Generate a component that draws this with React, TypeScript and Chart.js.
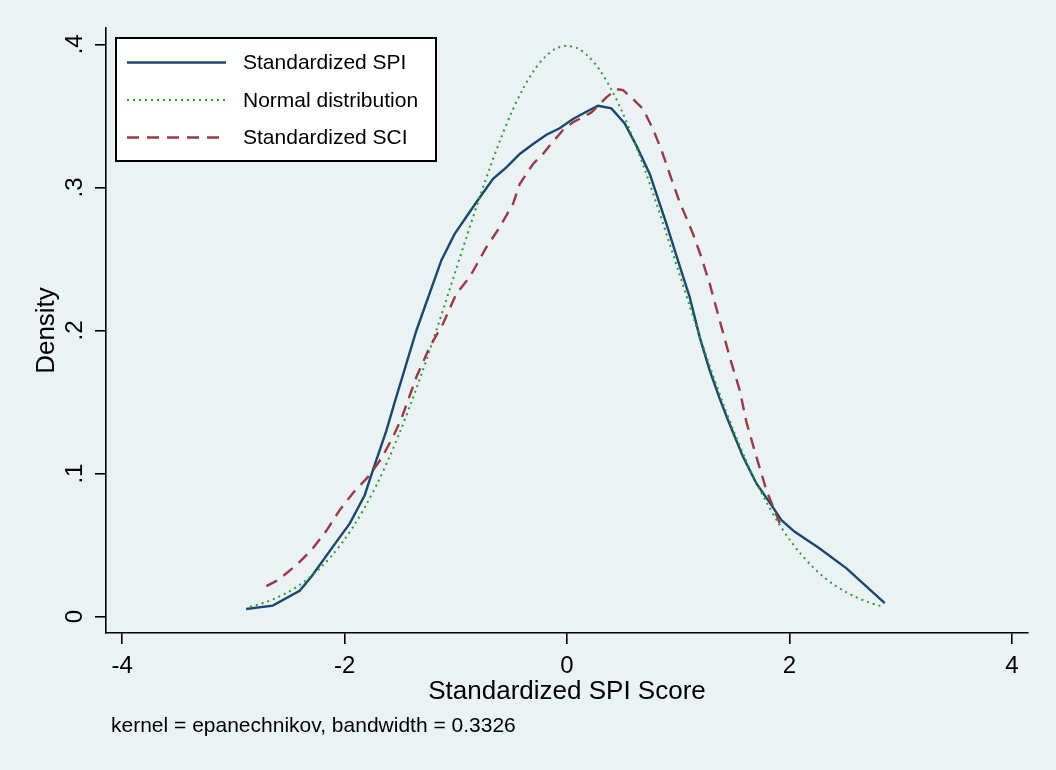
import React, { useEffect, useRef } from 'react';
import { Chart, registerables } from 'chart.js';

Chart.register(...registerables);

// ---- data ----
const xTicks = [-4, -2, 0, 2, 4];
const yTicks = [0, 0.1, 0.2, 0.3, 0.4];
const seriesLabels = ['Standardized SPI', 'Normal distribution', 'Standardized SCI'];

const spiX = [-2.885, -2.646, -2.404, -2.299, -2.074, -1.954, -1.819, -1.745, -1.624, -1.549, -1.354, -1.13, -1.01, -0.815, -0.665, -0.545, -0.425, -0.305, -0.185, -0.066, 0.054, 0.174, 0.279, 0.399, 0.519, 0.624, 0.744, 0.894, 0.998, 1.103, 1.193, 1.283, 1.373, 1.448, 1.583, 1.703, 1.838, 1.928, 2.048, 2.272, 2.513, 2.857];
const spiY = [0.0054, 0.0077, 0.0181, 0.0279, 0.0523, 0.065, 0.0849, 0.1024, 0.13, 0.15, 0.2, 0.249, 0.2675, 0.2896, 0.306, 0.314, 0.3234, 0.3303, 0.3368, 0.3413, 0.3478, 0.3529, 0.3571, 0.3552, 0.3447, 0.3292, 0.3094, 0.2745, 0.2489, 0.2233, 0.1954, 0.1721, 0.1524, 0.1373, 0.1117, 0.0931, 0.078, 0.0675, 0.0593, 0.0477, 0.0338, 0.0094];

const normalX = [-2.85, -2.8, -2.7, -2.6, -2.5, -2.4, -2.3, -2.2, -2.1, -2.0, -1.9, -1.8, -1.7, -1.6, -1.5, -1.4, -1.3, -1.2, -1.1, -1.0, -0.9, -0.8, -0.7, -0.6, -0.5, -0.4, -0.3, -0.2, -0.1, 0, 0.1, 0.2, 0.3, 0.4, 0.5, 0.6, 0.7, 0.8, 0.9, 1.0, 1.1, 1.2, 1.3, 1.4, 1.5, 1.6, 1.7, 1.8, 1.9, 2.0, 2.1, 2.2, 2.3, 2.4, 2.5, 2.6, 2.7, 2.8, 2.85];
const normalY = [0.0069, 0.0079, 0.0104, 0.0136, 0.0175, 0.0224, 0.0283, 0.0355, 0.044, 0.054, 0.0656, 0.079, 0.094, 0.1109, 0.1295, 0.1497, 0.1714, 0.1942, 0.2179, 0.242, 0.2661, 0.2897, 0.3123, 0.3332, 0.3521, 0.3683, 0.3814, 0.391, 0.397, 0.3989, 0.397, 0.391, 0.3814, 0.3683, 0.3521, 0.3332, 0.3123, 0.2897, 0.2661, 0.242, 0.2179, 0.1942, 0.1714, 0.1497, 0.1295, 0.1109, 0.094, 0.079, 0.0656, 0.054, 0.044, 0.0355, 0.0283, 0.0224, 0.0175, 0.0136, 0.0104, 0.0079, 0.0069];

const sciX = [-2.703, -2.598, -2.433, -2.298, -2.164, -2.044, -1.924, -1.789, -1.669, -1.565, -1.489, -1.354, -1.235, -1.115, -0.995, -0.875, -0.725, -0.605, -0.485, -0.425, -0.305, -0.216, -0.156, -0.036, 0.054, 0.129, 0.219, 0.354, 0.444, 0.504, 0.594, 0.684, 0.773, 0.849, 0.923, 1.013, 1.058, 1.133, 1.208, 1.283, 1.373, 1.463, 1.553, 1.613, 1.703, 1.793, 1.913];
const sciY = [0.0214, 0.0256, 0.0361, 0.0465, 0.06, 0.0745, 0.0865, 0.0977, 0.1105, 0.1256, 0.1384, 0.1675, 0.1884, 0.2047, 0.2257, 0.2373, 0.2582, 0.2722, 0.2885, 0.3024, 0.3164, 0.3234, 0.3292, 0.3401, 0.3455, 0.3485, 0.3524, 0.3629, 0.3687, 0.368, 0.3617, 0.3548, 0.3408, 0.3262, 0.3094, 0.2896, 0.2815, 0.2675, 0.2512, 0.2327, 0.207, 0.1814, 0.1582, 0.136, 0.1117, 0.0884, 0.0652];

const xTitle = 'Standardized SPI Score';
const yTitle = 'Density';
const noteText = 'kernel = epanechnikov, bandwidth = 0.3326';

const FONT = '"Liberation Sans", Arial, Helvetica, sans-serif';
const BG = '#EAF2F3';

function pts(xs: number[], ys: number[]) {
  return xs.map((x, i) => ({ x, y: ys[i] }));
}

export default function App() {
  const ref = useRef<HTMLCanvasElement>(null);

  useEffect(() => {
    if (!ref.current) return;

    const stataLegend = {
      id: 'stataLegend',
      afterDraw(chart: any) {
        const ctx = chart.ctx as CanvasRenderingContext2D;
        ctx.save();
        // legend box
        ctx.fillStyle = '#ffffff';
        ctx.fillRect(116, 38, 320, 123);
        ctx.strokeStyle = '#000000';
        ctx.lineWidth = 2;
        ctx.strokeRect(116, 38, 320, 123);
        chart.data.datasets.forEach((ds: any, i: number) => {
          const y = 62.5 + i * 37.5;
          ctx.beginPath();
          ctx.setLineDash(ds.borderDash || []);
          ctx.strokeStyle = ds.borderColor;
          ctx.lineWidth = ds.borderWidth;
          ctx.moveTo(127, y);
          ctx.lineTo(226, y);
          ctx.stroke();
          ctx.setLineDash([]);
          ctx.fillStyle = '#000000';
          ctx.font = '21px ' + FONT;
          ctx.textAlign = 'left';
          ctx.textBaseline = 'middle';
          ctx.fillText(ds.label, 243, y + 1);
        });
        // note
        ctx.font = '21px ' + FONT;
        ctx.textBaseline = 'alphabetic';
        ctx.fillStyle = '#000000';
        ctx.fillText(noteText, 111, 732);
        ctx.restore();
      },
    };

    const chart = new Chart(ref.current, {
      type: 'line',
      data: {
        datasets: [
          {
            label: seriesLabels[0],
            data: pts(spiX, spiY),
            borderColor: '#1a476f',
            borderWidth: 2.4,
            pointRadius: 0,
            tension: 0,
            fill: false,
            order: 2,
          },
          {
            label: seriesLabels[1],
            data: pts(normalX, normalY),
            borderColor: '#2f9a35',
            borderWidth: 2,
            borderDash: [2, 4],
            pointRadius: 0,
            tension: 0.3,
            fill: false,
            order: 1,
          },
          {
            label: seriesLabels[2],
            data: pts(sciX, sciY),
            borderColor: '#983a42',
            borderWidth: 2.4,
            borderDash: [12, 8],
            pointRadius: 0,
            tension: 0,
            fill: false,
            order: 0,
          },
        ],
      },
      options: {
        responsive: false,
        devicePixelRatio: 1,
        animation: false,
        layout: { padding: { left: 0, right: 28, top: 28, bottom: 0 } },
        plugins: {
          legend: { display: false },
          tooltip: { enabled: false },
        },
        scales: {
          x: {
            type: 'linear',
            min: -4.145,
            max: 4.145,
            afterBuildTicks: (scale: any) => {
              scale.ticks = xTicks.map((v) => ({ value: v }));
            },
            afterFit: (scale: any) => {
              scale.height = 137;
            },
            border: { display: true, color: '#000000', width: 1.6 },
            grid: {
              display: true,
              drawOnChartArea: false,
              drawTicks: true,
              tickLength: 11,
              color: '#000000',
              lineWidth: 1.6,
            },
            ticks: {
              color: '#000000',
              font: { family: FONT, size: 24 },
              padding: 8,
              maxRotation: 0,
              minRotation: 0,
              callback: (v: any) => String(v),
            },
            title: {
              display: true,
              text: xTitle,
              color: '#000000',
              font: { family: FONT, size: 26 },
              padding: { top: 0, bottom: 63 },
            },
          },
          y: {
            type: 'linear',
            min: -0.0114,
            max: 0.4114,
            afterBuildTicks: (scale: any) => {
              scale.ticks = yTicks.map((v) => ({ value: v }));
            },
            afterFit: (scale: any) => {
              scale.width = 106;
            },
            border: { display: true, color: '#000000', width: 1.6 },
            grid: {
              display: true,
              drawOnChartArea: false,
              drawTicks: true,
              tickLength: 11,
              color: '#000000',
              lineWidth: 1.6,
            },
            ticks: {
              color: '#000000',
              font: { family: FONT, size: 24 },
              padding: 10,
              minRotation: 90,
              maxRotation: 90,
              crossAlign: 'center',
              callback: (v: any) => {
                const n = Number(v);
                if (Math.abs(n) < 1e-9) return '0';
                return '.' + Math.round(n * 10);
              },
            },
            title: {
              display: true,
              text: yTitle,
              color: '#000000',
              font: { family: FONT, size: 26 },
              padding: { top: 31, bottom: 0 },
            },
          },
        },
      },
      plugins: [stataLegend],
    } as any);

    return () => chart.destroy();
  }, []);

  return (
    <div
      style={{
        position: 'fixed',
        left: 0,
        top: 0,
        width: 1056,
        height: 770,
        background: BG,
      }}
    >
      <canvas ref={ref} width={1056} height={770} style={{ display: 'block' }} />
    </div>
  );
}
